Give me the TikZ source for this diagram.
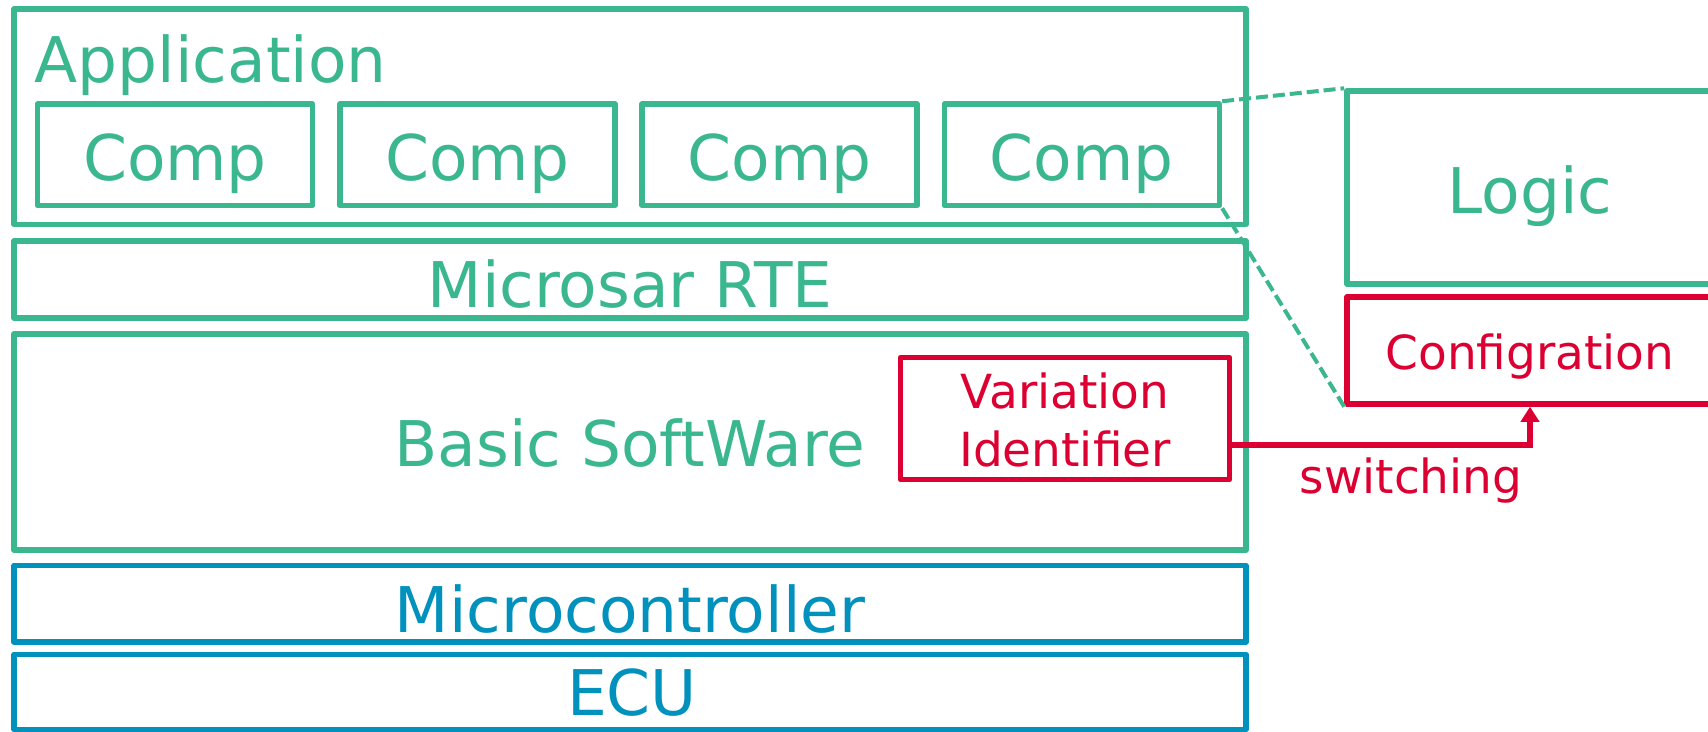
\documentclass[tikz,border=0pt]{standalone}
\usepackage{fontspec}
\setmainfont{DejaVu Sans}
\usetikzlibrary{arrows.meta,calc}
\definecolor{cgreen}{HTML}{3BB78F}
\definecolor{cblue}{HTML}{0091BD}
\definecolor{cred}{HTML}{DC0032}
\begin{document}
\begin{tikzpicture}[x=1pt,y=-1pt,
  box/.style={draw, line width=5.5pt, line join=round, rectangle, inner sep=0pt},
  gbox/.style={box, draw=cgreen},
  bbox/.style={box, draw=cblue},
  rbox/.style={box, draw=cred},
  big/.style={inner sep=0pt, anchor=base, font=\fontsize{63}{70}\selectfont},
  gtext/.style={big, text=cgreen},
  btext/.style={big, text=cblue},
  small/.style={inner sep=0pt, anchor=base, font=\fontsize{47}{58}\selectfont, text=cred, align=center},
  dashline/.style={draw=cgreen, line width=4pt, dash pattern=on 12pt off 5pt},
  arr/.style={draw=cred, line width=5.5pt, -{Triangle[length=15pt,width=18pt]}}]
\useasboundingbox (0,0) rectangle (1708,731);
\clip (0,0) rectangle (1708,731);
% boxes
\node[gbox, minimum width=1232pt, minimum height=215.5pt] (app) at (630,116.75) {};
\node[gbox, minimum width=275pt, minimum height=101.5pt] (c1) at (175,154.75) {};
\node[gbox, minimum width=275pt, minimum height=101.5pt] (c2) at (477.3,154.75) {};
\node[gbox, minimum width=275pt, minimum height=101.5pt] (c3) at (779.6,154.75) {};
\node[gbox, minimum width=275pt, minimum height=101.5pt] (c4) at (1081.9,154.75) {};
\node[gbox, minimum width=1232pt, minimum height=77pt] (rte) at (630,279.5) {};
\node[gbox, minimum width=1232pt, minimum height=216pt] (bsw) at (630,442) {};
\node[rbox, minimum width=329pt, minimum height=122pt] (var) at (1065,418.5) {};
\node[bbox, minimum width=1232pt, minimum height=76.5pt] (mcu) at (630,603.75) {};
\node[bbox, minimum width=1232pt, minimum height=75pt] (ecu) at (630,692) {};
\node[gbox, minimum width=366pt, minimum height=193pt] (logic) at (1530,187.5) {};
\node[rbox, minimum width=366pt, minimum height=107pt] (conf) at (1530,350.5) {};
% texts
\node[gtext, anchor=base west] (tapp) at (34.5,82) {Application};
\node[gtext] (tc1) at (175,180) {Comp};
\node[gtext] (tc2) at (477.3,180) {Comp};
\node[gtext] (tc3) at (779.6,180) {Comp};
\node[gtext] (tc4) at (1081.9,180) {Comp};
\node[gtext] (trte) at (630,307) {Microsar RTE};
\node[gtext] (tbsw) at (630,466) {Basic SoftWare};
\node[btext] (tmcu) at (630,632) {Microcontroller};
\node[btext] (tecu) at (632,715) {ECU};
\node[gtext] (tlogic) at (1530,213) {Logic};
\node[small] (tconf) at (1530,369) {Configration};
\node[small, anchor=center] (tvar) at (1065,420) {Variation\\Identifier};
\node[small] (tsw) at (1411,493) {switching};
% connectors
\draw[dashline] (c4.north east) -- (logic.north west);
\draw[dashline] (c4.south east) -- (conf.south west);
\draw[arr] (var.east |- 0,445) -| (conf.south);
\end{tikzpicture}
\end{document}
